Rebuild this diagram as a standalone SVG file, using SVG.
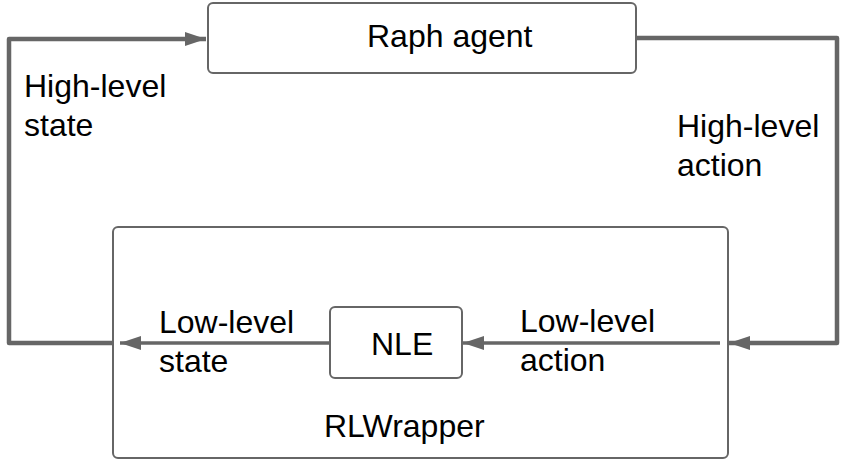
<svg xmlns="http://www.w3.org/2000/svg" width="843" height="466" viewBox="0 0 843 466">
<style>
.box{fill:#fff;stroke:#666;stroke-width:2}
.t{font-family:"Liberation Sans",Arial,sans-serif;font-size:32px;fill:#000}
.c{fill:none;stroke:#666;stroke-linejoin:round}
.thick{stroke-width:4.5}
.thin{stroke-width:3.5}
</style>
<defs>
<marker id="ah" markerUnits="userSpaceOnUse" markerWidth="22" markerHeight="14" refX="21" refY="7" orient="auto">
<path d="M0,0 L21,7 L0,14 Z" fill="#666"/>
</marker>
</defs>
<rect width="843" height="466" fill="#fff"/>
<g id="rlwrapper">
<rect class="box" x="113" y="227" width="615" height="231" rx="5"/>
<text class="t" x="324" y="437">RLWrapper</text>
</g>
<g id="raph-agent">
<rect class="box" x="208" y="3" width="428" height="70" rx="5"/>
<text class="t" x="367" y="47">Raph agent</text>
</g>
<g id="nle">
<rect class="box" x="330" y="307" width="132" height="71" rx="5"/>
<text class="t" x="371" y="355">NLE</text>
</g>
<g id="connectors">
<path class="c thick" d="M113,343 L9,343 L9,39 L206,39" marker-end="url(#ah)"/>
<path class="c thick" d="M636,38 L837,38 L837,343 L729,343" marker-end="url(#ah)"/>
<path class="c thin" d="M720,343 L463,343" marker-end="url(#ah)"/>
<path class="c thin" d="M330,343 L120,343" marker-end="url(#ah)"/>
</g>
<g id="labels">
<text class="t" x="24" y="97">High-level<tspan x="24" dy="39">state</tspan></text>
<text class="t" x="677" y="137">High-level<tspan x="677" dy="39">action</tspan></text>
<text class="t" x="159" y="333">Low-level<tspan x="159" dy="39">state</tspan></text>
<text class="t" x="520" y="332">Low-level<tspan x="520" dy="39">action</tspan></text>
</g>
</svg>
